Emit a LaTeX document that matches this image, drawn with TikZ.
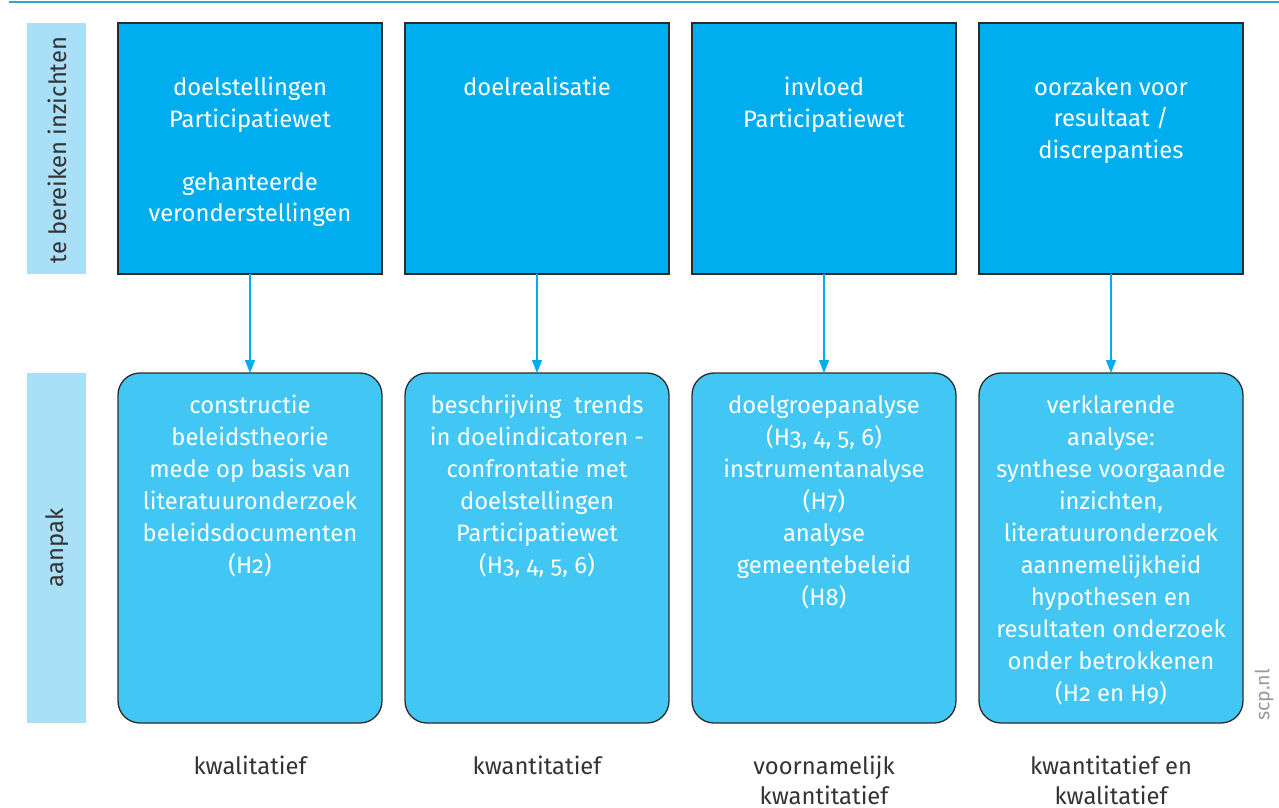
\documentclass[tikz,border=0pt]{standalone}
\usepackage{fontspec}
\setmainfont{Fira Sans}[Numbers=OldStyle]
\usetikzlibrary{arrows.meta}
\definecolor{topline}{HTML}{3AA0DC}
\definecolor{darkbox}{HTML}{00AEEF}
\definecolor{lightbox}{HTML}{42C7F4}
\definecolor{sidebar}{HTML}{AADFF8}
\definecolor{txt}{HTML}{333333}
\definecolor{edge}{HTML}{2B2B2B}
\tikzset{
  goalbox/.style={draw=edge, line width=1.3pt, fill=darkbox},
  methodbox/.style={draw=edge, line width=1.3pt, fill=lightbox, rounded corners=22pt},
  sidebox/.style={fill=sidebar},
  boxtext/.style={anchor=north, inner sep=0pt, align=center, text=white,
    font=\fontsize{23.8}{31.5}\selectfont},
  labeltext/.style={anchor=north, inner sep=0pt, align=center, text=txt,
    font=\fontsize{23.8}{29.5}\selectfont},
  sidetext/.style={rotate=90, inner sep=0pt, text=txt, font=\fontsize{23.8}{28}\selectfont},
  conn/.style={draw=darkbox, line width=1.5pt, -{Triangle[length=13pt,width=10pt]}},
}
\begin{document}
\begin{tikzpicture}[x=1pt,y=-1pt]
\useasboundingbox (0,0) rectangle (1279,807);
\draw[topline, line width=2pt] (9,1.5) -- (1279,1.5);
% side bars
\fill[sidebox] (27,23) rectangle (86,274);
\fill[sidebox] (27,373) rectangle (86,723);
\node[sidetext] (s1) at (57,150) {te bereiken inzichten};
\node[sidetext] (s2) at (57,548) {aanpak};
% boxes
\foreach \i/\x in {1/118,2/405,3/692,4/979}{
  \draw[goalbox] (\x,23) rectangle ++(264,251);
  \coordinate (t\i) at (\x+132,274);
  \draw[methodbox] (\x,373) rectangle ++(264,350);
  \coordinate (b\i) at (\x+132,373);
}
\foreach \i in {1,2,3,4}{ \draw[conn] (t\i) -- (b\i); }
% top texts
\node[boxtext] (g1) at (250,77) {doelstellingen\\Participatiewet\\[31.5pt]gehanteerde\\veronderstellingen};
\node[boxtext] (g2) at (537,77) {doelrealisatie};
\node[boxtext] (g3) at (824,77) {invloed\\Participatiewet};
\node[boxtext] (g4) at (1111,77) {oorzaken voor\\resultaat /\\discrepanties};
% bottom texts
\tikzset{boxtext/.append style={font=\fontsize{23.8}{32}\selectfont}}
\node[boxtext] (m1) at (250,395) {constructie\\beleidstheorie\\mede op basis van\\literatuuronderzoek\\beleidsdocumenten\\(H2)};
\node[boxtext] (m2) at (537,395) {beschrijving\ \ trends\\in doelindicatoren -\\confrontatie met\\doelstellingen\\Participatiewet\\(H3, 4, 5, 6)};
\node[boxtext] (m3) at (824,395) {doelgroepanalyse\\(H3, 4, 5, 6)\\instrumentanalyse\\(H7)\\analyse\\gemeentebeleid\\(H8)};
\node[boxtext] (m4) at (1111,395) {verklarende\\analyse:\\synthese voorgaande\\inzichten,\\literatuuronderzoek\\aannemelijkheid\\hypothesen en\\resultaten onderzoek\\onder betrokkenen\\(H2 en H9)};
% bottom labels
\node[labeltext] (l1) at (250,756) {kwalitatief};
\node[labeltext] (l2) at (537,756) {kwantitatief};
\node[labeltext] (l3) at (824,756) {voornamelijk\\kwantitatief};
\node[labeltext] (l4) at (1111,756) {kwantitatief en\\kwalitatief};
\node[rotate=90, inner sep=0pt, text=black!40, font=\fontsize{19.5}{22}\selectfont] (scp) at (1264,695) {scp.nl};
\end{tikzpicture}
\end{document}
